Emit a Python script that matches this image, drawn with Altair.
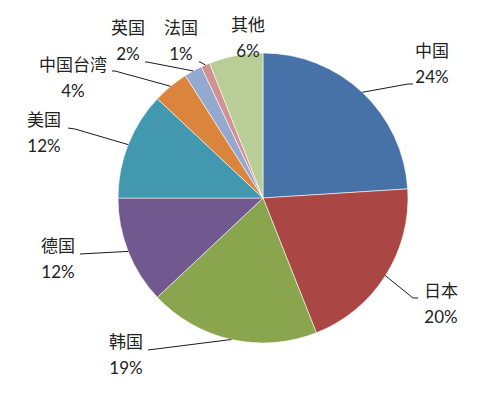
import altair as alt
import numpy as np
import pandas as pd

# ---- data ----
names = ["中国", "日本", "韩国", "德国", "美国", "中国台湾", "英国", "法国", "其他"]
values = [24, 20, 19, 12, 12, 4, 2, 1, 6]
colors = ["#4672A8", "#AA4643", "#89A54E", "#71588F", "#4198AF",
          "#DB843D", "#93A9CF", "#D19392", "#B9CD96"]

# ---- layout (plot-area pixel units) ----
W, H = 468, 380
CX, CY, R = 255, 190, 145
# label text-block centre (name line) per slice
label_x = [424, 433, 118, 50, 36, 65, 120, 173, 240]
label_y = [44, 284, 335, 239, 113, 58, 21, 21, 18]
LINE_GAP = 26
# leader lines: elbow and end point per slice (None = no leader)
leader_elbow = [(400, 76), (405, 290), (140, 342), (72, 246), (67, 121),
                (107, 63), (139, 54), (192, 54), None]
leader_end = [(405, 76), (410, 290), (140, 342), (72, 246), (60, 120),
              (104, 63), (137, 54), (191, 54), None]

total = sum(values)
cum = np.cumsum([0] + values[:-1])
mid = [(c + v / 2) / total * 2 * np.pi for c, v in zip(cum, values)]

df = pd.DataFrame({"name": names, "value": values, "idx": range(len(names)),
                   "pct": [f"{v}%" for v in values],
                   "lx": label_x, "ly": label_y,
                   "ly2": [y + LINE_GAP for y in label_y]})

rows = []
for i, n in enumerate(names):
    if leader_elbow[i] is None:
        continue
    ex = CX + R * np.sin(mid[i])
    ey = CY - R * np.cos(mid[i])
    pts = [(ex, ey), leader_elbow[i], leader_end[i]]
    for k, (px, py) in enumerate(pts):
        rows.append({"name": n, "k": k, "px": px, "py": py})
lines_df = pd.DataFrame(rows)

xs = alt.Scale(domain=[0, W], nice=False, zero=False)
ys = alt.Scale(domain=[0, H], nice=False, zero=False, reverse=True)

pie = alt.Chart(df).mark_arc(outerRadius=R, stroke="#ffffff", strokeWidth=0.8,
                              strokeOpacity=0.7).encode(
    theta=alt.Theta("value:Q", stack=True),
    order=alt.Order("idx:Q"),
    color=alt.Color("name:N", scale=alt.Scale(domain=names, range=colors), legend=None),
    x=alt.value(CX), y=alt.value(CY),
)

leaders = alt.Chart(lines_df).mark_line(color="#1a1a1a", strokeWidth=1).encode(
    x=alt.X("px:Q", scale=xs, axis=None),
    y=alt.Y("py:Q", scale=ys, axis=None),
    detail="name:N",
    order="k:Q",
)

name_txt = alt.Chart(df).mark_text(font="Noto Sans CJK SC", fontSize=17,
                                    color="#222222", baseline="middle").encode(
    x=alt.X("lx:Q", scale=xs, axis=None),
    y=alt.Y("ly:Q", scale=ys, axis=None),
    text="name:N",
)

pct_txt = alt.Chart(df).mark_text(font="Lato", fontSize=17,
                                   color="#222222", baseline="middle").encode(
    x=alt.X("lx:Q", scale=xs, axis=None),
    y=alt.Y("ly2:Q", scale=ys, axis=None),
    text="pct:N",
)

chart = alt.layer(pie, leaders, name_txt, pct_txt).properties(
    width=W, height=H, padding=0
).configure_view(stroke=None)

chart.save("out.html", embed_options={"renderer": "svg", "actions": False})
